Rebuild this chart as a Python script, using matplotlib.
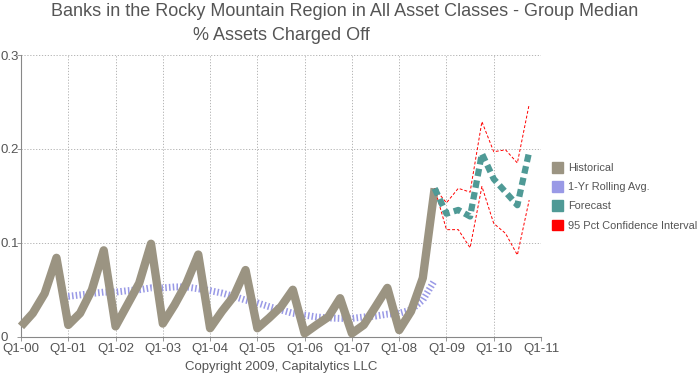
import numpy as np
import matplotlib.pyplot as plt
from matplotlib.patches import Patch

plt.rcParams['font.family'] = ['Liberation Sans', 'DejaVu Sans']

# quarter labels on the axis (one per year)
year_labels = ["Q1-00", "Q1-01", "Q1-02", "Q1-03", "Q1-04", "Q1-05",
               "Q1-06", "Q1-07", "Q1-08", "Q1-09", "Q1-10", "Q1-11"]

# historical, Q1-00 .. Q4-08
historical = [0.011, 0.025, 0.046, 0.084,
              0.0125, 0.025, 0.050, 0.092,
              0.011, 0.034, 0.057, 0.099,
              0.014, 0.034, 0.057, 0.0875,
              0.009, 0.027, 0.043, 0.071,
              0.009, 0.020, 0.032, 0.050,
              0.0035, 0.0125, 0.021, 0.041,
              0.0035, 0.0125, 0.032, 0.052,
              0.007, 0.027, 0.0625, 0.158]

# 1-yr rolling avg, Q1-01 .. Q4-08
rolling = [0.043, 0.0445, 0.046, 0.0475,
           0.0475, 0.049, 0.050, 0.052,
           0.052, 0.053, 0.053, 0.051,
           0.049, 0.0465, 0.043, 0.039,
           0.036, 0.032, 0.0285, 0.025,
           0.023, 0.021, 0.020, 0.0195,
           0.0195, 0.021, 0.022, 0.024,
           0.025, 0.0285, 0.039, 0.060]

# forecast and bands, Q4-08 .. Q4-10
forecast = [0.158, 0.131, 0.135, 0.128, 0.195, 0.168, 0.154, 0.140, 0.197]
upper = [0.158, 0.1426, 0.158, 0.154, 0.229, 0.197, 0.199, 0.185, 0.2475]
lower = [0.158, 0.114, 0.114, 0.0947, 0.160, 0.1206, 0.110, 0.087, 0.1455]

c_hist = '#9b9482'
c_roll = '#9999e6'
c_fc = '#4f9a96'
c_ci = '#ff0000'
c_txt = '#555555'

x_hist = np.arange(len(historical))
x_roll = np.arange(4, 4 + len(rolling))
x_fc = np.arange(35, 35 + len(forecast))

fig = plt.figure(figsize=(7, 3.75), dpi=100)
ax = fig.add_axes([21/700, 1-336.7/375, 520/700, (336.7-55)/375])

ax.plot(x_hist, historical, color=c_hist, lw=6, solid_joinstyle='round',
        solid_capstyle='butt', clip_on=False, zorder=3)
ax.plot(x_roll, rolling, color=c_roll, lw=5, linestyle=(0, (0.22, 0.32)),
        dash_capstyle='butt', clip_on=False, zorder=2)
ax.plot(x_fc, upper, color=c_ci, lw=0.7, linestyle=(0, (3, 2)), zorder=4)
ax.plot(x_fc, lower, color=c_ci, lw=0.7, linestyle=(0, (3, 2)), zorder=4)
ax.plot(x_fc, forecast, color=c_fc, lw=4.5, linestyle=(0, (1.2, 0.7)),
        dash_capstyle='butt', zorder=5)

ax.set_xlim(0, 44)
ax.set_ylim(0, 0.3)
ax.set_xticks(np.arange(0, 45, 4))
ax.set_xticklabels(year_labels)
ax.set_yticks([0, 0.1, 0.2, 0.3])
ax.set_yticklabels(["0", "0.1", "0.2", "0.3"])

ax.grid(True, color='#aaaaaa', lw=0.6, linestyle=(0, (1.5, 2)))
ax.set_axisbelow(True)
for s in ['top', 'right']:
    ax.spines[s].set_visible(False)
for s in ['left', 'bottom']:
    ax.spines[s].set_color('#888888')
    ax.spines[s].set_linewidth(0.8)

ax.tick_params(axis='both', colors='#888888', labelcolor=c_txt, labelsize=9.5,
               length=3, width=0.6)
ax.tick_params(axis='y', pad=12)
ax.tick_params(axis='x', pad=1.5)
for lab in ax.get_yticklabels():
    lab.set_horizontalalignment('left')

fig.text(345/700, 1-12/375, "Banks in the Rocky Mountain Region in All Asset Classes - Group Median",
         ha='center', va='center', fontsize=13, color=c_txt)
fig.text(281/700, 1-36/375, "% Assets Charged Off",
         ha='center', va='center', fontsize=13, color=c_txt)
fig.text(281/700, 1-367/375, "Copyright 2009, Capitalytics LLC",
         ha='center', va='center', fontsize=9.5, color=c_txt)

handles = [Patch(color=c_hist, label='Historical'),
           Patch(color=c_roll, label='1-Yr Rolling Avg.'),
           Patch(color=c_fc, label='Forecast'),
           Patch(color=c_ci, label='95 Pct Confidence Interval')]
leg = fig.legend(handles=handles, loc='upper left', bbox_to_anchor=(552/700, 1-162/375),
                 frameon=False, fontsize=7.9, handlelength=1.0, handleheight=1.1,
                 handletextpad=0.45, labelspacing=0.75, borderaxespad=0, borderpad=0)
for t in leg.get_texts():
    t.set_color(c_txt)

fig.savefig('out.png', dpi=100)
